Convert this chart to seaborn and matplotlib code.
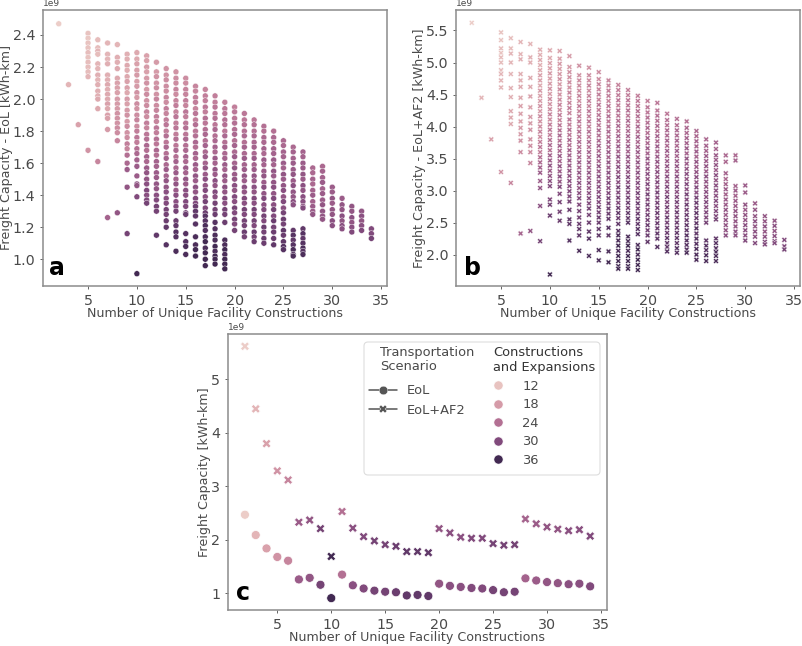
import matplotlib
matplotlib.use("Agg")
import matplotlib.pyplot as plt
from matplotlib.lines import Line2D
from matplotlib.patches import FancyBboxPatch
from matplotlib.colors import PowerNorm
import pandas as pd
import seaborn as sns

# Panel a: y in units of 1e7 kWh-km, c = constructions and expansions
a02y=[247]; a02c=[10]
a03y=[209]; a03c=[14]
a04y=[184]; a04c=[17]
a05y=[241,238,235,232,229,226,223,220,217,214,168]; a05c=[12,11,12,12,13,12,13,13,13,14,19]
a06y=[237,232,230,228,222,219,215,212,209,205,202,200,194,161]; a06c=[13,13,14,13,14,14,15,14,15,15,15,16,16,21]
a07y=[235,228,225,222,215,212,209,206,203,200,197,194,190,188,181,126]; a07c=[14,14,14,15,15,15,16,15,16,16,17,16,17,17,18,26]
a08y=[234,226,223,219,213,210,207,204,200,197,194,191,188,185,182,179,174,129]; a08c=[14,15,15,16,16,17,17,17,18,18,18,19,19,19,20,20,21,28]
a09y=[228,225,221,218,214,211,207,204,200,197,193,190,186,183,179,176,172,169,165,160,156,145,116]; a09c=[15,15,16,15,16,17,17,16,18,17,18,19,18,20,19,20,22,21,24,25,27,28,31]
a10y=[229,225,222,218,215,211,208,204,201,197,194,190,187,183,180,176,173,169,166,162,158,152,147,146,139,91]; a10c=[16,16,17,17,18,17,18,19,18,20,19,20,21,20,22,23,22,24,25,26,27,27,29,28,30,36]
a11y=[227,224,220,217,213,210,206,203,199,196,192,189,185,182,178,175,171,168,164,161,157,154,150,147,143,140,137,135]; a11c=[17,17,18,17,18,19,18,20,19,20,21,20,22,21,23,24,25,24,26,25,27,28,28,29,30,29,30,31]
a12y=[223,217,214,210,207,203,200,196,193,189,186,182,179,175,172,168,165,161,158,154,151,147,144,140,137,133,130,115]; a12c=[18,18,19,19,20,19,21,20,21,22,21,23,22,24,23,25,24,26,26,27,27,28,28,29,30,31,31,33]
a13y=[219,215,212,208,205,201,198,194,191,187,184,180,177,173,170,166,163,159,156,152,149,145,142,138,135,131,128,124,120,109]; a13c=[19,19,20,20,20,21,20,22,21,22,23,22,24,23,25,24,26,25,27,26,28,28,29,29,30,31,31,32,33,34]
a14y=[217,213,210,206,203,199,196,192,189,185,182,178,175,171,168,164,161,157,154,150,147,143,140,136,133,130,124,121,117,114,105]; a14c=[19,20,20,21,20,21,22,21,23,22,23,22,24,23,25,24,26,25,27,26,28,27,29,29,30,31,32,33,34,34,35]
a15y=[213,210,206,203,199,196,192,189,185,182,178,175,171,168,164,161,157,154,150,147,143,140,136,133,129,128,116,111,108,103]; a15c=[20,20,21,21,22,21,23,22,23,24,23,25,24,25,26,25,27,26,28,27,29,29,30,30,31,32,34,34,35,35]
a16y=[208,205,201,198,194,191,187,184,180,177,173,170,166,163,159,156,152,149,145,142,138,135,133,130,127,122,114,109,106,102]; a16c=[21,21,22,22,21,23,22,24,23,24,25,24,26,25,27,26,28,27,29,28,30,30,32,33,33,34,35,35,36,36]
a17y=[206,202,199,195,192,188,185,181,178,174,171,167,164,160,157,153,150,146,143,139,136,132,129,127,124,121,118,114,111,107,104,100,96]; a17c=[21,22,22,23,22,24,23,24,25,24,26,25,27,26,28,27,29,28,30,29,31,30,32,34,34,35,34,35,36,35,36,36,36]
a18y=[202,198,195,191,188,184,181,177,174,170,167,163,160,156,153,149,146,142,139,135,131,128,123,119,115,112,108,105,102,100,97]; a18c=[22,22,23,23,24,23,25,24,25,26,25,27,26,28,27,29,28,30,29,31,31,32,34,34,35,35,36,35,36,36,36]
a19y=[198,194,191,187,184,180,177,173,170,166,163,159,156,152,149,145,142,138,135,131,128,123,112,109,106,103,100,97,94]; a19c=[22,23,23,24,24,23,25,24,26,25,26,27,26,28,27,29,28,30,29,31,31,32,35,35,36,35,36,36,36]
a20y=[195,192,188,185,181,178,174,171,167,164,160,157,153,150,146,143,139,136,132,129,125,122,118]; a20c=[22,23,23,24,24,25,24,26,25,27,26,28,27,28,29,28,30,29,31,30,31,30,31]
a21y=[191,187,184,180,177,173,170,166,163,159,156,152,149,145,142,138,135,131,128,124,121,117,114]; a21c=[23,23,24,24,25,24,26,25,27,26,27,28,27,29,28,30,29,31,30,31,31,32,31]
a22y=[187,184,180,177,173,170,166,163,159,156,152,149,145,142,138,135,131,128,124,121,117,114,111]; a22c=[23,24,24,25,25,26,25,27,26,27,28,27,29,28,30,29,31,30,31,30,32,31,32]
a23y=[183,180,176,173,169,166,162,159,155,152,148,145,141,138,134,131,127,124,120,117,113,110]; a23c=[24,24,25,25,26,25,27,26,27,28,27,29,28,30,29,30,31,30,32,31,32,32]
a24y=[180,176,173,169,166,162,159,155,152,148,145,141,138,134,131,127,124,120,117,113,109]; a24c=[24,25,25,26,26,27,26,28,27,28,29,28,30,29,31,30,32,31,32,32,33]
a25y=[174,171,167,164,160,157,153,150,146,143,139,136,132,129,125,122,118,115,111,108,106]; a25c=[25,25,26,26,27,26,28,27,28,29,28,30,29,31,32,31,33,32,33,34,34]
a26y=[170,167,163,160,156,153,149,146,142,139,136,134,118,115,112,109,106,103,102]; a26c=[25,26,26,27,27,28,27,29,28,28,29,29,33,34,33,34,35,34,35]
a27y=[167,164,160,157,153,150,146,143,139,136,133,132,119,116,113,110,107,105,103]; a27c=[26,26,27,27,28,27,29,28,29,29,29,30,33,34,33,34,35,34,35]
a28y=[157,154,150,147,143,140,136,133,130,128]; a28c=[25,25,26,25,26,27,26,27,27,28]
a29y=[158,155,151,148,144,141,137,134,130,127,125]; a29c=[25,26,26,27,26,27,27,28,28,28,28]
a30y=[145,142,138,135,131,128,124,121]; a30c=[27,27,28,27,28,28,29,29]
a31y=[138,134,131,127,124,121,119]; a31c=[27,28,28,29,28,29,29]
a32y=[133,130,126,123,120,117]; a32c=[28,28,29,28,29,30]
a33y=[130,127,124,121,118]; a33c=[28,29,28,29,30]
a34y=[119,116,113]; a34c=[30,30,31]

# Panel b
b02y=[562]; b02c=[10]
b03y=[445]; b03c=[14]
b04y=[380]; b04c=[17]
b05y=[547,535,522,515,508,500,488,482,472,461,329]; b05c=[12,12,13,12,13,13,13,14,14,14,19]
b06y=[538,522,514,500,482,460,446,424,414,404,312]; b06c=[13,13,14,14,14,15,15,16,16,16,21]
b07y=[532,513,505,482,472,462,445,432,420,408,398,388,378,360,233]; b07c=[14,14,15,15,15,16,16,17,17,17,18,18,19,20,26]
b08y=[529,508,500,476,462,447,430,415,405,395,380,370,360,343,237]; b08c=[14,15,15,16,16,17,17,18,18,19,19,20,20,21,28]
b09y=[520,512,504,496,488,480,472,464,456,448,440,432,424,416,408,400,392,384,376,368,360,352,344,336,328,315,304,276,221]; b09c=[15,15,16,15,16,17,17,16,18,17,18,19,18,20,19,20,21,20,22,23,22,24,25,26,27,27,28,29,31]
b10y=[519,507,499,491,483,475,467,459,451,443,435,427,419,411,403,395,387,379,371,363,355,347,339,331,323,315,307,286,278,261,169]; b10c=[16,16,17,17,18,17,18,19,18,20,19,20,21,20,22,23,22,24,25,24,26,27,28,27,28,29,30,30,31,32,36]
b11y=[518,506,498,490,482,474,466,458,450,442,434,426,418,410,402,394,386,378,370,362,354,346,338,330,322,314,306,295,282,267,253]; b11c=[17,17,18,17,18,19,18,20,19,20,21,20,22,21,23,24,25,24,26,25,27,26,28,27,29,28,30,30,31,31,32]
b12y=[510,493,485,477,469,461,453,445,437,429,421,411,403,395,387,379,371,363,355,347,339,331,323,315,307,299,291,283,270,255,248,222]; b12c=[18,18,19,19,20,19,21,20,21,22,21,23,22,24,23,25,24,26,26,27,27,28,28,29,29,30,30,31,32,33,33,34]
b13y=[495,480,472,464,456,448,440,432,424,416,408,400,392,384,376,368,360,352,344,336,328,320,312,304,296,288,278,268,258,248,240,230,206]; b13c=[19,19,20,20,20,21,20,22,21,22,23,22,24,23,25,24,26,25,27,26,28,27,29,28,29,30,30,31,31,32,33,33,35]
b14y=[492,480,472,464,456,448,440,432,424,416,408,400,392,384,376,368,360,352,344,336,328,320,312,304,296,288,280,272,262,250,236,225,198]; b14c=[19,20,20,21,20,21,22,21,23,22,23,22,24,23,25,24,26,25,27,26,28,27,29,28,29,30,30,31,31,32,33,34,35]
b15y=[485,474,466,458,450,442,434,426,418,410,402,394,386,378,370,362,354,346,338,330,322,314,306,298,290,282,274,266,258,250,240,230,207,191]; b15c=[20,20,21,21,22,21,23,22,23,24,23,25,24,25,26,25,27,26,28,27,29,28,29,29,30,30,31,31,32,32,33,33,35,35]
b16y=[472,464,456,448,440,432,424,416,408,400,392,384,376,368,360,352,344,336,328,320,312,304,296,288,280,272,264,256,242,230,205,188]; b16c=[21,21,22,22,21,23,22,24,23,24,25,24,26,25,27,26,28,27,29,28,30,29,30,31,31,32,32,33,34,33,35,36]
b17y=[465,457,449,441,433,425,417,409,401,393,385,377,369,361,353,345,337,329,321,313,305,297,289,281,273,265,257,248,237,230,222,214,206,198,190,182,178]; b17c=[21,22,22,23,22,24,23,24,25,24,26,25,27,26,28,27,29,28,30,29,31,30,31,30,32,33,32,33,34,35,35,36,35,36,36,36,36]
b18y=[457,449,441,433,425,417,409,401,393,385,377,369,361,353,345,337,329,321,313,305,297,289,281,273,265,257,250,228,221,214,206,198,190,182,178]; b18c=[22,22,23,23,24,23,25,24,25,26,25,27,26,28,27,29,28,30,29,31,30,31,32,31,33,33,34,35,35,36,35,36,36,36,36]
b19y=[448,440,432,424,416,408,400,392,384,376,368,360,352,344,336,328,320,312,304,296,288,280,272,264,256,248,240,232,215,208,200,192,184,176]; b19c=[22,23,23,24,24,23,25,24,26,25,26,27,26,28,27,29,28,30,29,31,30,32,31,32,33,33,34,34,35,36,35,36,36,36]
b20y=[440,430,422,414,406,398,390,382,374,366,358,350,342,334,326,318,310,302,294,286,278,270,262,254,246,238,230,220]; b20c=[22,23,23,24,24,25,24,26,25,27,26,28,27,28,29,28,30,29,31,30,31,30,31,31,32,31,32,33]
b21y=[437,425,417,409,401,393,385,377,369,361,353,345,337,329,321,313,305,297,289,281,273,265,257,249,241,233,225,212]; b21c=[23,23,24,24,25,24,26,25,27,26,27,28,27,29,28,30,29,31,30,31,31,32,31,32,32,33,33,34]
b22y=[420,410,402,394,386,378,370,362,354,346,338,330,322,314,306,298,290,282,274,266,258,250,242,234,226,218,212,205]; b22c=[23,24,24,25,25,26,25,27,26,27,28,27,29,28,30,29,31,30,31,30,32,31,32,32,33,33,33,34]
b23y=[412,402,394,386,378,370,362,354,346,338,330,322,314,306,298,290,282,274,266,258,250,242,234,226,218,210,203]; b23c=[24,24,25,25,26,25,27,26,27,28,27,29,28,30,29,30,31,30,32,31,32,32,33,33,33,34,34]
b24y=[408,398,390,382,374,366,358,350,342,334,326,318,310,302,294,286,278,270,262,254,246,238,230,222,215,208,203]; b24c=[24,25,25,26,26,27,26,28,27,28,29,28,30,29,31,30,32,31,32,32,33,33,34,34,34,34,35]
b25y=[393,385,377,369,361,353,345,337,329,321,313,305,297,289,281,273,265,257,249,241,233,225,217,209,200,192]; b25c=[25,25,26,26,27,26,28,27,28,29,28,30,29,31,32,31,33,32,33,34,33,34,34,35,35,35]
b26y=[380,370,362,354,346,338,330,322,314,306,298,290,282,274,266,258,250,222,214,207,199,190]; b26c=[25,26,26,27,27,28,27,29,28,28,29,29,30,29,30,30,31,33,34,34,35,35]
b27y=[375,365,355,348,340,332,324,316,308,300,292,284,276,268,260,255,225,218,210,204,198,190]; b27c=[26,26,27,27,28,27,29,28,29,29,29,30,29,30,30,31,33,34,34,35,35,35]
b28y=[355,345,327,318,310,302,294,286,278,270,262,254,246,238,230]; b28c=[25,25,26,25,26,27,26,27,27,28,27,28,28,28,29]
b29y=[355,347,307,300,292,284,276,268,260,252,244,236,230]; b29c=[25,26,26,27,26,27,27,28,28,28,28,29,29]
b30y=[308,297,278,270,262,254,246,238,230,222]; b30c=[27,27,28,27,28,28,29,29,29,30]
b31y=[280,270,260,252,244,236,228,218]; b31c=[27,28,28,29,28,29,29,30]
b32y=[260,252,244,236,228,220,216]; b32c=[28,28,29,28,29,30,30]
b33y=[253,245,237,229,221,218]; b33c=[28,29,28,29,30,30]
b34y=[223,213,208]; b34c=[30,30,31]

# Panel c: minimum capacity per construction count
c_x=[2,3,4,5,6,7,8,9,10,11,12,13,14,15,16,17,18,19,20,21,22,23,24,25,26,27,28,29,30,31,32,33,34]
c_eol=[247,209,184,168,161,126,129,116,91,135,115,109,105,103,102,96,97,95,118,114,112,110,109,106,102,103,128,124,121,119,117,118,113]
c_af2=[562,445,380,329,312,233,237,221,169,253,222,206,198,191,188,178,178,176,221,213,205,203,203,193,190,191,239,230,224,220,217,219,207]
c_hue=[10,14,17,19,21,27,28,31,36,24,29,30,31,31,32,33,33,33,28,29,29,30,30,31,31,31,26,27,28,28,29,29,30]

legend_levels=[12,18,24,30,36]
scenario_labels=['EoL','EoL+AF2']
x_label='Number of Unique Facility Constructions'
GREY='#4a4a4a'

sns.set_theme(style='white', rc={'axes.edgecolor':'#8c8c8c','axes.linewidth':1.1,
    'text.color':GREY,'axes.labelcolor':GREY,'xtick.color':GREY,'ytick.color':GREY,
    'xtick.bottom':True,'ytick.left':True,'xtick.major.size':2,'ytick.major.size':2,
    'xtick.major.width':0.6,'ytick.major.width':0.6,
    'xtick.labelsize':10.3,'ytick.labelsize':10.3,'axes.labelsize':9.1})
plt.rcParams['font.family']=['DejaVu Sans']

W,H=803,646
def box(l,t,r,b):
    return [l/W,1-b/H,(r-l)/W,(b-t)/H]

def table(prefix):
    rows=[]
    g=globals()
    for x in c_x:
        ys=g[f'{prefix}{x:02d}y']; cs=g[f'{prefix}{x:02d}c']
        rows.append(pd.DataFrame({'x':x,'y':[v*1e7 for v in ys],'c':cs}))
    return pd.concat(rows,ignore_index=True)

cmap=sns.cubehelix_palette(as_cmap=True)
norm=PowerNorm(1.2,vmin=9,vmax=38)

fig=plt.figure(figsize=(W/100,H/100),dpi=100)
axa=fig.add_axes(box(43,10,387,286))
axb=fig.add_axes(box(456,10,800,286))
axc=fig.add_axes(box(228,334,607,610))

sns.scatterplot(data=table('a'),x='x',y='y',hue='c',palette=cmap,hue_norm=norm,marker='o',s=18,
                linewidth=0.3,edgecolor='w',legend=False,ax=axa)
sns.scatterplot(data=table('b'),x='x',y='y',hue='c',palette=cmap,hue_norm=norm,marker='X',s=16,
                linewidth=0.3,edgecolor='w',legend=False,ax=axb)

dfc=pd.concat([pd.DataFrame({'x':c_x,'y':[v*1e7 for v in c_eol],'c':c_hue,'s':scenario_labels[0]}),
               pd.DataFrame({'x':c_x,'y':[v*1e7 for v in c_af2],'c':c_hue,'s':scenario_labels[1]})],ignore_index=True)
sns.scatterplot(data=dfc,x='x',y='y',hue='c',style='s',palette=cmap,hue_norm=norm,
                markers={'EoL':'o','EoL+AF2':'X'},s=42,linewidth=0.5,edgecolor='w',legend=False,ax=axc)

axa.set(xlim=(0.39,35.6),ylim=(0.833e9,2.556e9),yticks=[1.0e9,1.2e9,1.4e9,1.6e9,1.8e9,2.0e9,2.2e9,2.4e9],
        xticks=[5,10,15,20,25,30,35],xlabel=x_label,ylabel='Freight Capacity - EoL [kWh-km]')
axb.set(xlim=(0.39,35.6),ylim=(1.51e9,5.82e9),yticks=[2.0e9,2.5e9,3.0e9,3.5e9,4.0e9,4.5e9,5.0e9,5.5e9],
        xticks=[5,10,15,20,25,30,35],xlabel=x_label,ylabel='Freight Capacity - EoL+AF2 [kWh-km]')
axc.set(xlim=(0.43,35.56),ylim=(0.688e9,5.85e9),yticks=[1e9,2e9,3e9,4e9,5e9],
        xticks=[5,10,15,20,25,30,35],xlabel=x_label,ylabel='Freight Capacity [kWh-km]')
for ax,xc,yc in ((axa,-0.105,-0.1014),(axb,-0.105,-0.1014),(axc,-0.063,-0.098)):
    ax.yaxis.get_offset_text().set_fontsize(6.5)
    ax.xaxis.set_label_coords(0.5,yc)
    ax.yaxis.set_label_coords(xc,0.5)
    ax.xaxis.label.set_va('center')
    ax.yaxis.label.set_va('center')

for t,px,py in (('a',57,268),('b',473,268),('c',243,593)):
    fig.text(px/W,1-py/H,t,fontsize=17,fontweight='bold',color='black',ha='center',va='center',zorder=10)

# Legend
frame=FancyBboxPatch((3.64,(H-475)/100),2.36,1.33,boxstyle='round,pad=0,rounding_size=0.04',
                     transform=fig.dpi_scale_trans,facecolor='white',edgecolor='#dddddd',linewidth=0.8,zorder=4)
axc.add_patch(frame)
fig.text(380/W,1-359.5/H,'Transportation\nScenario',fontsize=9.4,color=GREY,ha='left',va='center',linespacing=1.18,zorder=6)
fig.text(493/W,1-360/H,'Constructions\nand Expansions',fontsize=9.4,color='#333333',ha='left',va='center',linespacing=1.18,zorder=6)
h1=[Line2D([],[],color='#555555',marker=m,markersize=6.2,linewidth=1.1,markeredgecolor='w',markeredgewidth=0.3) for m in ('o','X')]
leg1=axc.legend(h1,scenario_labels,frameon=False,loc='upper left',
                bbox_to_anchor=(369/W,1-384.5/H),bbox_transform=fig.transFigure,fontsize=9.4,
                handlelength=2.15,handletextpad=0.77,labelspacing=0.46,borderpad=0,borderaxespad=0)
leg1.set_zorder(5)
axc.add_artist(leg1)
h2=[Line2D([],[],linestyle='',marker='o',markersize=6.6,color=cmap(norm(v)),markeredgecolor='w',markeredgewidth=0.4) for v in legend_levels]
leg2=axc.legend(h2,[str(v) for v in legend_levels],frameon=False,loc='upper left',
                bbox_to_anchor=(491.5/W,1-379.5/H),bbox_transform=fig.transFigure,fontsize=9.4,
                handlelength=1,handletextpad=1.35,labelspacing=0.43,borderpad=0,borderaxespad=0)
leg2.set_zorder(5)

fig.savefig('out.png',dpi=100)
